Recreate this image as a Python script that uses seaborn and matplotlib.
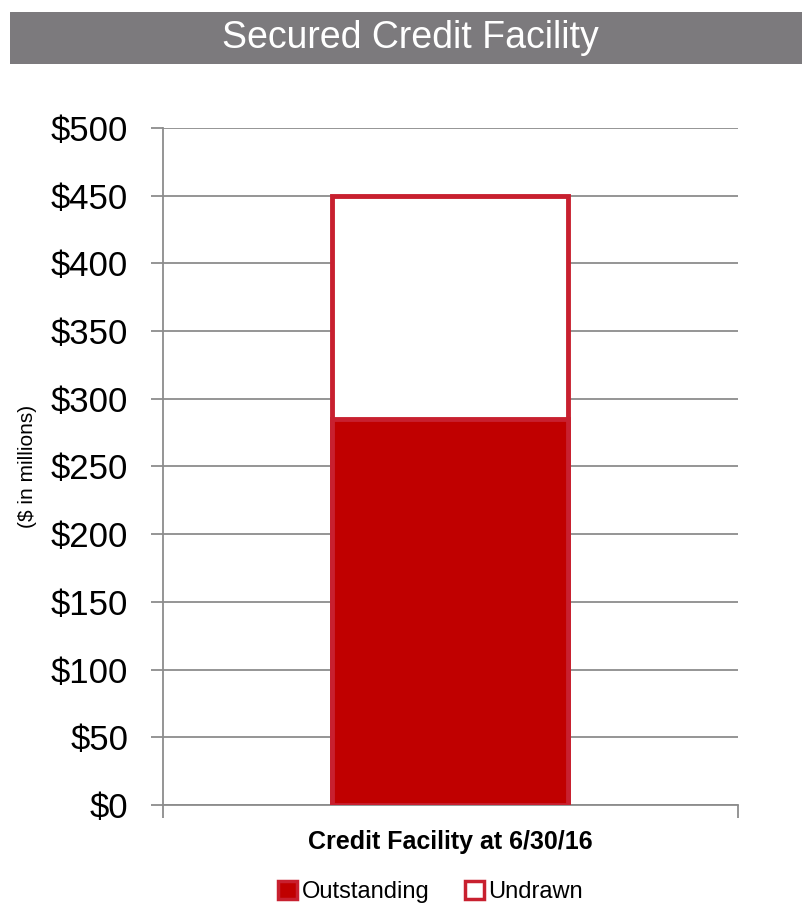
import matplotlib
matplotlib.use("Agg")
import matplotlib.pyplot as plt
import matplotlib.patches as mpatches
import seaborn as sns
import pandas as pd

# data
categories = ["Credit Facility at 6/30/16"]
outstanding = [285]
undrawn = [165]
y_ticks = [0, 50, 100, 150, 200, 250, 300, 350, 400, 450, 500]
y_tick_labels = [f"${v}" for v in y_ticks]

sns.set_style("white")
plt.rcParams['font.family'] = ['Liberation Sans Narrow', 'Liberation Sans', 'DejaVu Sans']
plt.rcParams['text.color'] = 'black'
plt.rcParams['axes.labelcolor'] = 'black'
plt.rcParams['xtick.color'] = 'black'
plt.rcParams['ytick.color'] = 'black'

df = pd.DataFrame({
    "category": categories,
    "outstanding": outstanding,
    "total": [o + u for o, u in zip(outstanding, undrawn)],
})

RED = "#c00000"
EDGE = "#c8202f"
GRID = "#8c8c8c"

fig = plt.figure(figsize=(8.02, 9.08), dpi=100)

# title banner
banner = fig.add_axes([0.012, 0.93, 0.988, 0.057])
banner.set_axis_off()
banner.add_patch(mpatches.Rectangle((0, 0), 1, 1, color="#7c7a7d", transform=banner.transAxes))
banner.text(0.506, 0.5, "Secured Credit Facility", color="white", fontsize=27,
            ha="center", va="center", transform=banner.transAxes)

ax = fig.add_axes([0.203, 0.1135, 0.717, 0.7455])
sns.barplot(data=df, x="category", y="total", ax=ax, color="white", saturation=1,
            edgecolor=EDGE, linewidth=3.5, width=0.41, zorder=3)
sns.barplot(data=df, x="category", y="outstanding", ax=ax, color=RED, saturation=1,
            edgecolor=EDGE, linewidth=3.5, width=0.41, zorder=4)

ax.set_ylim(0, 500)
ax.set_xlim(-0.5, 0.5)
ax.set_yticks(y_ticks)
ax.set_yticklabels(y_tick_labels, fontsize=25)
ax.yaxis.grid(True, color=GRID, linewidth=1.3, zorder=0)
ax.set_axisbelow(True)
for s in ["top", "right"]:
    ax.spines[s].set_visible(False)
for s in ["left", "bottom"]:
    ax.spines[s].set_color(GRID)
    ax.spines[s].set_linewidth(1.3)
ax.tick_params(axis="y", left=True, length=9, color=GRID, width=1.3, pad=16)
ax.set_xticks([-0.5, 0.5])
ax.set_xticklabels(["", ""])
ax.tick_params(axis="x", bottom=True, length=9, color=GRID, width=1.3)
ax.set_xlabel("")
ax.set_ylabel("($ in millions)", fontsize=15, labelpad=10)
ax.text(0.5, -0.055, categories[0], transform=ax.transAxes, ha="center", va="center",
        fontsize=18, fontweight="bold")

handles = [
    mpatches.Patch(facecolor=RED, edgecolor=EDGE, linewidth=2.5, label="Outstanding"),
    mpatches.Patch(facecolor="white", edgecolor=EDGE, linewidth=2.5, label="Undrawn"),
]
fig.legend(handles=handles, loc="center", bbox_to_anchor=(0.537, 0.018), ncol=2,
           frameon=False, fontsize=17, handlelength=0.8, handleheight=0.8,
           handletextpad=0.2, columnspacing=1.5)

fig.savefig("out.png", dpi=100)
